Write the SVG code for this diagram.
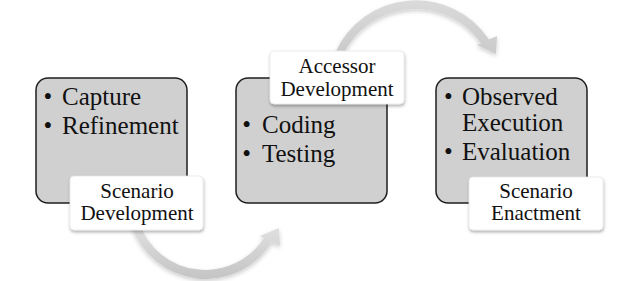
<svg xmlns="http://www.w3.org/2000/svg" width="640" height="281" viewBox="0 0 640 281">
<defs>
<style>
.box{fill:#d0d0d0;stroke:#1e1e1e;stroke-width:1.5}
.lbl{fill:#ffffff;stroke:#e6e6e6;stroke-width:0.75;filter:url(#sh)}
.bt{font-family:"Liberation Serif","Times New Roman",serif;font-size:25px;fill:#111}
.lt{font-family:"Liberation Serif","Times New Roman",serif;font-size:21px;fill:#111;text-anchor:middle}
.arr{filter:url(#ash)}
</style>
<filter id="sh" x="-20%" y="-20%" width="140%" height="150%">
<feDropShadow dx="0.5" dy="2" stdDeviation="1.5" flood-color="#000" flood-opacity="0.3"/>
</filter>
<filter id="ash" x="-20%" y="-20%" width="140%" height="150%">
<feDropShadow dx="0" dy="2" stdDeviation="2" flood-color="#000" flood-opacity="0.2"/>
</filter>
<linearGradient id="g1" x1="0" y1="0" x2="0" y2="1">
<stop offset="0" stop-color="#e2e2e2"/>
<stop offset="1" stop-color="#c4c4c4"/>
</linearGradient>
<linearGradient id="g2" x1="0" y1="0" x2="0" y2="1">
<stop offset="0" stop-color="#dadada"/>
<stop offset="1" stop-color="#cacaca"/>
</linearGradient>
</defs>
<g id="connectors">
<path class="arr" fill="url(#g1)" d="M131.7,225.7 A78 78 0 0 0 272,242 L280,246 L279,228 L260,236 L264,238 A70 70 0 0 1 139.2,222.9 Z"/>
<path class="arr" fill="url(#g2)" d="M335.2,52.8 A88 88 0 0 1 489,39.6 L497,36 L496,54 L477,45 L481,43.2 A80 80 0 0 0 342.5,56.2 Z"/>
</g>
<g id="node-scenario-development">
<rect class="box" x="36" y="78" width="151" height="125" rx="12"/>
<text class="bt" x="43.6" y="105">•</text><text class="bt" x="62" y="105">Capture</text>
<text class="bt" x="43.6" y="134">•</text><text class="bt" x="62" y="134">Refinement</text>
<rect class="lbl" x="70" y="176" width="133" height="54" rx="4"/>
<text class="lt" x="137" y="198">Scenario</text>
<text class="lt" x="137" y="220">Development</text>
</g>
<g id="node-accessor-development">
<rect class="box" x="236" y="78" width="151" height="125" rx="12"/>
<text class="bt" x="242.3" y="133">•</text><text class="bt" x="262" y="133">Coding</text>
<text class="bt" x="242.3" y="162">•</text><text class="bt" x="262" y="162">Testing</text>
<rect class="lbl" x="270" y="51" width="134" height="53" rx="4"/>
<text class="lt" x="337" y="73">Accessor</text>
<text class="lt" x="337" y="96">Development</text>
</g>
<g id="node-scenario-enactment">
<rect class="box" x="436" y="78" width="151" height="125" rx="12"/>
<text class="bt" x="444" y="105">•</text><text class="bt" x="462" y="105">Observed</text>
<text class="bt" x="462" y="131">Execution</text>
<text class="bt" x="444" y="159.5">•</text><text class="bt" x="462" y="159.5">Evaluation</text>
<rect class="lbl" x="469" y="177" width="134" height="53" rx="4"/>
<text class="lt" x="536" y="198">Scenario</text>
<text class="lt" x="536" y="220">Enactment</text>
</g>
</svg>
